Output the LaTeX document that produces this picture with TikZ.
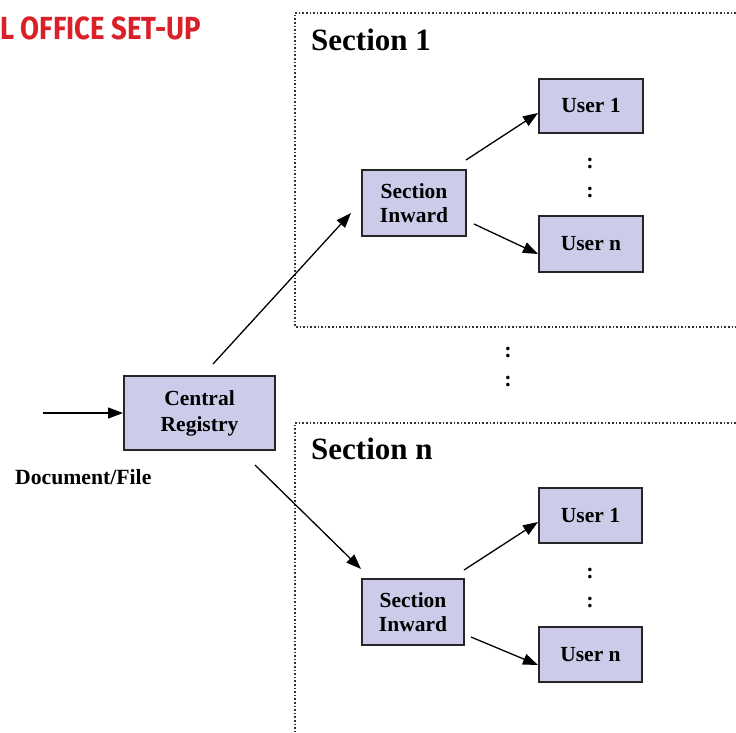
\documentclass[tikz,border=0pt]{standalone}
\usepackage{fontspec}
\usepackage{graphicx}
\setmainfont{Liberation Serif}
\newfontfamily\titlefont{Fira Sans}
\usetikzlibrary{arrows.meta}
\definecolor{boxfill}{RGB}{204,204,234}
\definecolor{titlered}{RGB}{218,32,40}
\tikzset{
  blk/.style={draw=black!85, line width=2pt, fill=boxfill, align=center,
    font=\fontsize{21.5}{24}\selectfont\bfseries, inner sep=0pt},
  arr/.style={line width=1.3pt, -{Triangle[length=15pt,width=11pt]}},
  secbox/.style={draw=black!80, line width=1.6pt, dotted},
  seclabel/.style={anchor=west, font=\fontsize{31}{34}\selectfont\bfseries, inner sep=0pt},
  dotsnode/.style={font=\fontsize{22}{24}\selectfont\bfseries, inner sep=0pt},
}
\begin{document}
\begin{tikzpicture}[x=1pt,y=-1pt]
\useasboundingbox (0,0) rectangle (736,732);
% title
\node[anchor=west, inner sep=0pt, text=titlered] (title) at (0,28)
  {\scalebox{0.86}[1]{\titlefont\bfseries\fontsize{32}{34}\selectfont L OFFICE SET-UP}};
% section frames
\draw[secbox] (736,13) -- (295,13) -- (295,327) -- (736,327);
\draw[secbox] (736,423) -- (295,423) -- (295,735);
\node[seclabel] (s1) at (311,40) {Section 1};
\node[seclabel] (sn) at (311,449) {Section n};
% central
\node[blk, minimum width=151pt, minimum height=74pt] (C) at (199.5,413) {Central\\[2pt]Registry};
\coordinate (in) at (43,413);
\node[anchor=west, inner sep=0pt, font=\fontsize{21.7}{24}\selectfont\bfseries] (doc) at (15,477) {Document/File};
% section 1
\node[blk, minimum width=104pt, minimum height=66pt] (SI1) at (414,203) {Section\\[0pt]Inward};
\node[blk, minimum width=104pt, minimum height=54pt] (U11) at (591,106) {User 1};
\node[blk, minimum width=104pt, minimum height=56pt] (U1n) at (591,244) {User n};
\node[dotsnode] (d11) at (590,163) {:};
\node[dotsnode] (d12) at (590,192) {:};
% middle dots
\node[dotsnode] (m1) at (508,352) {:};
\node[dotsnode] (m2) at (508,381) {:};
% section n
\node[blk, minimum width=102pt, minimum height=66pt] (SIn) at (413,612) {Section\\[0pt]Inward};
\node[blk, minimum width=103pt, minimum height=55pt] (Un1) at (590.5,515.5) {User 1};
\node[blk, minimum width=103pt, minimum height=55pt] (Unn) at (590.5,654.5) {User n};
\node[dotsnode] (dn1) at (590,573) {:};
\node[dotsnode] (dn2) at (590,602) {:};
% connectors
\draw[arr] (in) -- (C.west);
\draw[arr] ([shift={(13.5pt,11pt)}]C.north) -- ([shift={(-10pt,-10pt)}]SI1.west);
\draw[arr] ([shift={(55.5pt,-14pt)}]C.south) -- ([yshift=9pt]SIn.north west);
\draw[arr] ([shift={(-1pt,9pt)}]SI1.north east) -- ([yshift=-7pt]U11.west);
\draw[arr] ([shift={(7pt,-21pt)}]SI1.east) -- ([yshift=-10pt]U1n.west);
\draw[arr] ([shift={(-1pt,8pt)}]SIn.north east) -- ([yshift=-6.5pt]Un1.west);
\draw[arr] ([shift={(6pt,-25pt)}]SIn.east) -- ([yshift=-10.5pt]Unn.west);
\end{tikzpicture}
\end{document}
